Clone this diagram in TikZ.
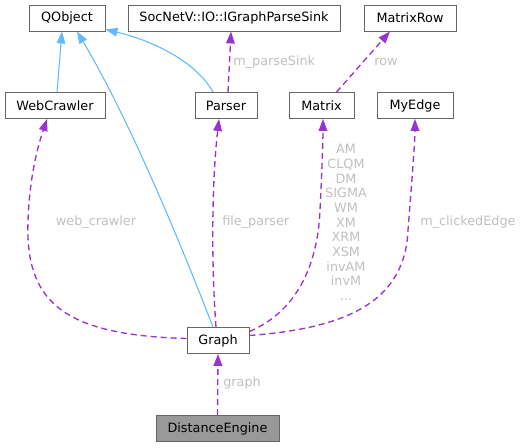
\documentclass[tikz,border=0pt]{standalone}
\usepackage{fontspec}
\setmainfont{DejaVu Sans}
\usetikzlibrary{arrows.meta, calc}
\definecolor{edgeblue}{HTML}{63B8FF}
\definecolor{edgepurple}{HTML}{9A32CD}
\definecolor{boxgray}{HTML}{666666}
\definecolor{labelgray}{HTML}{C0C0C0}
\definecolor{fillgray}{HTML}{999999}

\begin{document}
\begin{tikzpicture}[x=0.75pt, y=-0.75pt,
  cls/.style={draw=boxgray, fill=white, line width=0.7pt, minimum height=19.5pt, inner sep=0pt, font=\fontsize{9.6}{11.5}\selectfont},
  inherit/.style={draw=edgeblue, line width=0.8pt, -{Triangle[length=9pt,width=6.5pt]}},
  member/.style={draw=edgepurple, line width=1pt, dash pattern=on 4.5pt off 3pt, -{Triangle[length=9pt,width=6.5pt]}},
  lbl/.style={text=labelgray, inner sep=0pt, font=\fontsize{9.6}{11}\selectfont}]
\useasboundingbox (0,0) rectangle (525,447);

\node[cls, minimum width=57pt] (qobj) at (67,18) {QObject};
\node[cls, minimum width=159pt] (sink) at (234,18) {SocNetV::IO::IGraphParseSink};
\node[cls, minimum width=69pt] (mrow) at (410,18) {MatrixRow};
\node[cls, minimum width=75pt] (wc) at (55,105.5) {WebCrawler};
\node[cls, minimum width=46.5pt] (par) at (226,105.5) {Parser};
\node[cls, minimum width=48.75pt] (mat) at (321.5,105.5) {Matrix};
\node[cls, minimum width=57pt] (edge) at (415,105.5) {MyEdge};
\node[cls, minimum width=46.5pt] (graph) at (218,340.5) {Graph};
\node[cls, minimum width=92.25pt, fill=fillgray] (de) at (217.5,428.5) {DistanceEngine};

\draw[inherit] ($(wc.north)+(2,0)$) -- ($(qobj.south)+(-5,0)$);
\draw[inherit] ($(graph.north)+(-5,0)$) .. controls (160,190) and (115,95) .. ($(qobj.south)+(10,0)$);
\draw[inherit] ($(par.north)+(-13,0)$) .. controls (195,60) and (150,40) .. ($(qobj.south east)+(0,-2)$);

\draw[member] ($(par.north)+(2,0)$) -- ($(sink.south)+(-3,0)$);
\draw[member] ($(mat.north)+(15,0)$) -- ($(mrow.south)+(-20,0)$);
\draw[member] ($(graph.west)+(0,-2)$) .. controls (60,335) and (25,300) .. (28,220)
  .. controls (30,170) and (40,140) .. ($(wc.south)+(-8,0)$);
\draw[member] ($(graph.north)+(-2,0)$) .. controls (211,260) and (212,180) .. ($(par.south)+(-7,0)$);
\draw[member] ($(graph.east)+(0,-9)$) .. controls (300,310) and (318,260) .. (320,210)
  .. controls (322,170) and (323,140) .. ($(mat.south)+(1.5,0)$);
\draw[member] ($(graph.east)+(0,-5)$) .. controls (350,328) and (405,300) .. (408,230)
  .. controls (412,180) and (415,140) .. (edge.south);
\draw[member] (de.north) -- (graph.south);

\node[lbl, anchor=west] (lsink) at (233,62) {m\_parseSink};
\node[lbl, anchor=west] (lrow) at (374,62) {row};
\node[lbl] (lwc) at (96,222) {web\_crawler};
\node[lbl, anchor=west] (lpar) at (222,222) {file\_parser};
\node[lbl, align=center] (lmat) at (346,222.5) {AM\\CLQM\\DM\\SIGMA\\WM\\XM\\XRM\\XSM\\invAM\\invM\\...};
\node[lbl, anchor=west] (ledge) at (420,222) {m\_clickedEdge};
\node[lbl, anchor=west] (lgraph) at (223,383) {graph};
\end{tikzpicture}
\end{document}
